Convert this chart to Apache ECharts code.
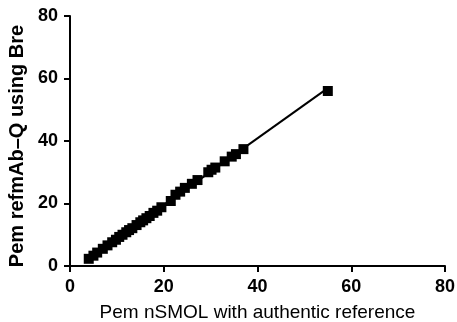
<!DOCTYPE html>
<html>
<head>
<meta charset="utf-8">
<script src="https://cdn.jsdelivr.net/npm/echarts@6/dist/echarts.min.js"></script>
<style>
  html, body { margin: 0; padding: 0; background: #fff; }
  #chart { width: 457px; height: 322px; }
</style>
</head>
<body>
<div id="chart"></div>
<script>
// Paired measurements: nSMOL with authentic reference (x) vs refmAb-Q using Bre (y)
const xValues = [4.0, 5.0, 5.8, 7.0, 8.0, 9.0, 9.8, 10.5, 11.2, 12.0, 12.6, 13.3, 14.2, 15.0, 15.6, 16.3, 17.0, 17.8, 18.6, 19.5, 21.5, 22.5, 23.5, 24.5, 26.0, 27.2, 29.5, 30.2, 31.0, 33.0, 34.5, 35.4, 37.0, 55.0];
const yValues = [2.3, 3.3, 4.3, 5.5, 6.6, 7.6, 8.4, 9.3, 10.0, 10.8, 11.5, 12.1, 13.1, 14.0, 14.6, 15.3, 16.0, 17.0, 17.7, 18.8, 20.8, 22.8, 23.8, 25.0, 26.3, 27.5, 30.0, 30.8, 31.5, 33.5, 35.0, 35.8, 37.4, 56.0];

const xTicks = [0, 20, 40, 60, 80];
const yTicks = [0, 20, 40, 60, 80];

const xTitle = 'Pem nSMOL with authentic reference';
const yTitle = 'Pem refmAb\u2013Q using Bre';

const points = xValues.map((x, i) => [x, yValues[i]]);

// Least-squares line spanning the measured range
const n = xValues.length;
const mx = xValues.reduce((a, b) => a + b, 0) / n;
const my = yValues.reduce((a, b) => a + b, 0) / n;
let sxy = 0, sxx = 0;
for (let i = 0; i < n; i++) {
  sxy += (xValues[i] - mx) * (yValues[i] - my);
  sxx += (xValues[i] - mx) * (xValues[i] - mx);
}
const slope = sxy / sxx;
const intercept = my - slope * mx;
const xMin = Math.min(...xValues), xMax = Math.max(...xValues);
const fitLine = [[xMin, intercept + slope * xMin], [xMax, intercept + slope * xMax]];

const FONT = 'Liberation Sans, Arial, sans-serif';

const axisCommon = {
  min: 0, max: 80, interval: 20,
  axisLine: { show: true, onZero: false, lineStyle: { color: '#000', width: 2 } },
  axisTick: { show: true, inside: false, length: 6, lineStyle: { color: '#000', width: 2 } },
  splitLine: { show: false },
  axisLabel: { color: '#000', fontFamily: FONT, fontSize: 18, fontWeight: 'bold' },
  nameLocation: 'middle'
};

const chart = echarts.init(document.getElementById('chart'), null, { renderer: 'canvas' });
chart.setOption({
  animation: false,
  backgroundColor: '#fff',
  grid: { left: 70, right: 12, top: 16, bottom: 56, containLabel: false, outerBoundsMode: 'none' },
  xAxis: Object.assign({}, axisCommon, {
    type: 'value',
    name: xTitle,
    nameGap: 37,
    nameTextStyle: { color: '#000', fontFamily: FONT, fontSize: 19 },
    axisLabel: Object.assign({}, axisCommon.axisLabel, {
      margin: 12,
      formatter: v => xTicks.includes(v) ? String(v) : ''
    })
  }),
  yAxis: Object.assign({}, axisCommon, {
    type: 'value',
    name: yTitle,
    nameGap: 43,
    nameTextStyle: {
      color: '#000', fontFamily: FONT,
      fontSize: 20, fontWeight: 'bold', padding: [0, 10, 0, 0]
    },
    axisLabel: Object.assign({}, axisCommon.axisLabel, {
      margin: 12,
      formatter: v => yTicks.includes(v) ? String(v) : ''
    })
  }),
  series: [
    {
      type: 'line',
      data: fitLine,
      symbol: 'none',
      lineStyle: { color: '#000', width: 2 },
      z: 1
    },
    {
      type: 'scatter',
      data: points,
      symbol: 'rect',
      symbolSize: 10,
      itemStyle: { color: '#000', opacity: 1 },
      z: 2
    }
  ]
});
</script>
</body>
</html>
